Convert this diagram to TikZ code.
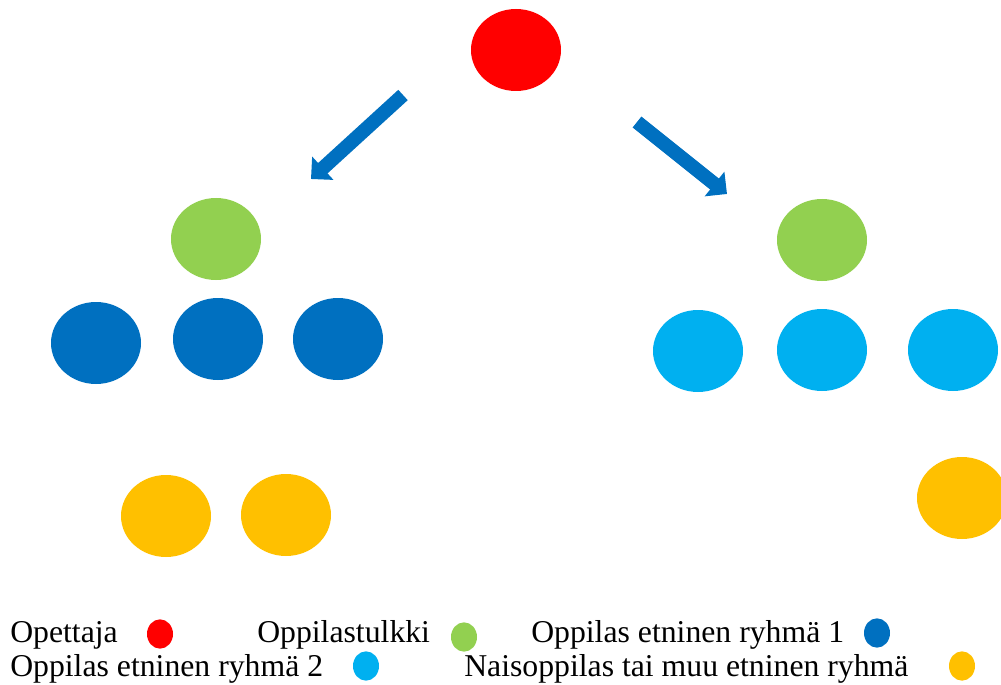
\documentclass[tikz,border=0pt]{standalone}
\usepackage{fontspec}
\setmainfont{Liberation Serif}
\usetikzlibrary{shapes.geometric, arrows.meta, positioning}
\definecolor{teacher}{RGB}{255,0,0}
\definecolor{interp}{RGB}{146,208,80}
\definecolor{groupone}{RGB}{0,112,192}
\definecolor{grouptwo}{RGB}{0,176,240}
\definecolor{girls}{RGB}{255,192,0}

\begin{document}
\begin{tikzpicture}[
    x=0.75pt, y=-0.75pt,
    pupil/.style={ellipse, minimum width=67.5pt, minimum height=61.5pt, inner sep=0pt},
    keydot/.style={ellipse, minimum width=19.5pt, minimum height=22pt, inner sep=0pt},
    keytext/.style={anchor=base west, inner sep=0pt, font=\fontsize{23.8}{28}\selectfont},
    arrow/.style={groupone, line width=10.5pt, -{Triangle[width=23pt,length=12pt]}}
]
\useasboundingbox (0,0) rectangle (1001,685);
\clip (0,0) rectangle (1001,685);

% Teacher
\node[pupil, fill=teacher] (opettaja) at (516,50) {};

% Left group
\node[pupil, fill=interp] (tulkki1) at (216,239) {};
\node[pupil, fill=groupone] (r1a) at (96,343) {};
\node[pupil, fill=groupone] (r1b) at (218,339) {};
\node[pupil, fill=groupone] (r1c) at (338,339) {};
\node[pupil, fill=girls] (nais1) at (166,516) {};
\node[pupil, fill=girls] (nais2) at (286,515) {};

% Right group
\node[pupil, fill=interp] (tulkki2) at (822,240) {};
\node[pupil, fill=grouptwo] (r2a) at (698,351) {};
\node[pupil, fill=grouptwo] (r2b) at (822,350) {};
\node[pupil, fill=grouptwo] (r2c) at (953,350) {};
\node[pupil, fill=girls] (nais3) at (962,498) {};

% Arrows
\coordinate (vasenalku) at (403,95);
\coordinate (vasenkarki) at (311,179);
\coordinate (oikeaalku) at (637,122);
\coordinate (oikeakarki) at (727,194);
\draw[arrow] (vasenalku) -- (vasenkarki);
\draw[arrow] (oikeaalku) -- (oikeakarki);

% Legend
\node[keytext] (l1) at (10,642) {Opettaja};
\node[keydot, fill=teacher] (d1) at (160,634) {};
\node[keytext] (l2) at (257,642) {Oppilastulkki};
\node[keydot, fill=interp] (d2) at (464,637) {};
\node[keytext] (l3) at (531,642) {Oppilas etninen ryhmä 1};
\node[keydot, fill=groupone] (d3) at (877,633) {};
\node[keytext] (l4) at (10,676) {Oppilas etninen ryhmä 2};
\node[keydot, fill=grouptwo] (d4) at (366,666) {};
\node[keytext] (l5) at (464,676) {Naisoppilas tai muu etninen ryhmä};
\node[keydot, fill=girls] (d5) at (962,666) {};

\end{tikzpicture}
\end{document}
